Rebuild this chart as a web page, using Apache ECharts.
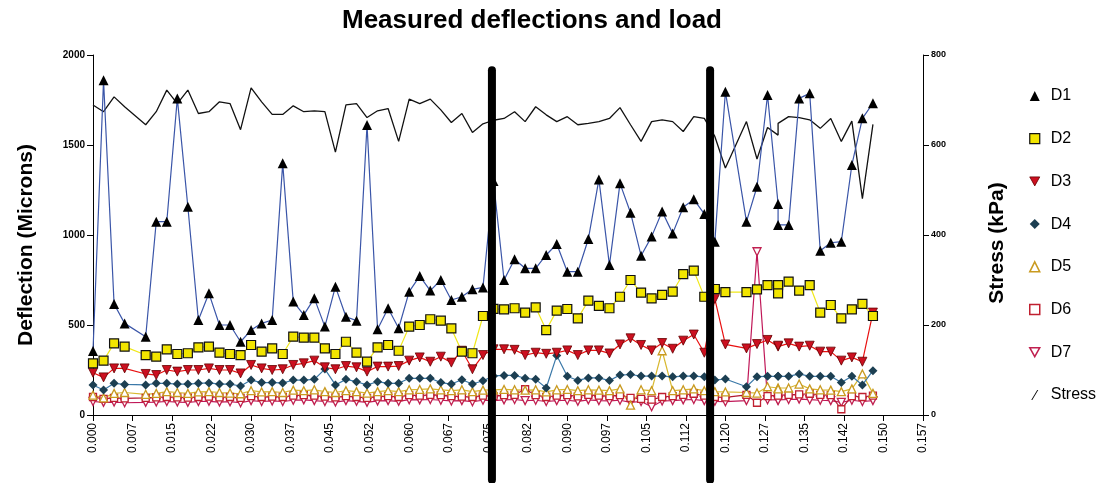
<!DOCTYPE html>
<html>
<head>
<meta charset="utf-8">
<title>Measured deflections and load</title>
<script src="https://cdn.jsdelivr.net/npm/echarts@6/dist/echarts.min.js"></script>
<style>
    html, body { margin: 0; padding: 0; background: #fff; }
    #chart { width: 1104px; height: 483px; }
</style>
</head>
<body>
<div id="chart"></div>
<script>
// x positions of the readings (0.008 and 0.122 are missing, 0.130 logged twice)
var xValues = [
    0.000, 0.002, 0.004, 0.006, 0.010, 0.012, 0.014, 0.016, 0.018, 0.020,
    0.022, 0.024, 0.026, 0.028, 0.030, 0.032, 0.034, 0.036, 0.038, 0.040,
    0.042, 0.044, 0.046, 0.048, 0.050, 0.052, 0.054, 0.056, 0.058, 0.060,
    0.062, 0.064, 0.066, 0.068, 0.070, 0.072, 0.074, 0.076, 0.078, 0.080,
    0.082, 0.084, 0.086, 0.088, 0.090, 0.092, 0.094, 0.096, 0.098, 0.100,
    0.102, 0.104, 0.106, 0.108, 0.110, 0.112, 0.114, 0.116, 0.118, 0.120,
    0.124, 0.126, 0.128, 0.130, 0.130,
    0.132, 0.134, 0.136, 0.138, 0.140, 0.142, 0.144, 0.146, 0.148
];
var d1 = [
    355, 1860, 617, 509, 435, 1074, 1074, 1759, 1157, 528,
    676, 500, 500, 407, 472, 509, 528, 1398, 630, 556,
    648, 491, 713, 546, 524, 1611, 476, 593, 482, 685,
    772, 691, 750, 639, 657, 698, 709, 1300, 750, 865,
    815, 815, 889, 950, 796, 796, 978, 1309, 833, 1287,
    1124, 885, 991, 1130, 1009, 1154, 1198, 1117, 963, 1796,
    1074, 1268, 1778, 1172, 1056,
    1056, 1759, 1787, 913, 957, 963, 1389, 1648, 1732
];
var d2 = [
    287, 302, 398, 380, 333, 324, 365, 339, 343, 376,
    380, 346, 339, 333, 389, 352, 370, 339, 435, 430,
    430, 370, 339, 407, 346, 296, 376, 389, 357, 491,
    500, 532, 524, 481, 352, 343, 550, 590, 587, 593,
    569, 598, 472, 580, 589, 537, 635, 606, 593, 657,
    750, 680, 648, 667, 685, 783, 802, 657, 700, 683,
    683, 698, 722, 722, 676,
    741, 691, 722, 569, 611, 537, 587, 617, 550
];
var d3 = [
    235, 209, 259, 259, 228, 222, 250, 241, 250, 250,
    259, 250, 250, 231, 278, 259, 250, 254, 278, 287,
    302, 265, 254, 272, 265, 241, 269, 269, 272, 302,
    320, 296, 324, 291, 357, 254, 333, 365, 365, 362,
    333, 346, 340, 346, 359, 333, 359, 359, 342, 392,
    426, 389, 359, 400, 368, 413, 447, 346, 645, 392,
    370, 394, 417, 380, 385,
    398, 380, 385, 352, 352, 302, 320, 296, 569
];
var d4 = [
    167, 139, 176, 170, 167, 176, 176, 172, 172, 176,
    178, 172, 172, 161, 194, 180, 180, 178, 194, 194,
    198, 255, 167, 198, 185, 167, 185, 176, 176, 204,
    204, 204, 180, 172, 196, 172, 190, 217, 220, 220,
    204, 198, 150, 330, 215, 192, 206, 206, 191, 222,
    225, 216, 216, 216, 212, 216, 216, 212, 194, 200,
    157, 213, 215, 215, 215,
    215, 228, 215, 215, 215, 180, 215, 167, 246
];
var d5 = [
    110, 95, 120, 125, 115, 120, 130, 125, 120, 128,
    130, 125, 122, 118, 135, 128, 130, 125, 138, 135,
    140, 130, 125, 135, 130, 122, 130, 135, 130, 140,
    142, 145, 140, 135, 140, 130, 138, 140, 142, 140,
    138, 140, 128, 140, 142, 135, 140, 138, 135, 145,
    55, 140, 135, 357, 135, 140, 145, 135, 130, 128,
    125, 122, 157, 150, 145,
    150, 172, 145, 140, 138, 130, 145, 228, 120
];
var d6 = [
    100, 90, 95, 92, 95, 98, 100, 98, 96, 100,
    102, 98, 100, 95, 105, 100, 102, 100, 108, 110,
    108, 102, 98, 105, 100, 95, 102, 105, 100, 110,
    108, 112, 110, 105, 102, 100, 108, 105, 110, 112,
    143, 110, 100, 108, 110, 104, 112, 108, 105, 110,
    95, 90, 85, 100, 105, 112, 118, 108, 100, 98,
    112, 68, 105, 110, 108,
    112, 115, 118, 112, 110, 32, 105, 100, 108
];
var d7 = [
    75, 70, 72, 68, 70, 72, 75, 72, 70, 75,
    76, 72, 74, 68, 80, 75, 78, 75, 82, 84,
    80, 75, 72, 80, 76, 70, 78, 80, 76, 85,
    84, 86, 82, 78, 80, 74, 82, 80, 84, 86,
    80, 82, 75, 80, 82, 76, 84, 80, 78, 82,
    70, 75, 46, 78, 80, 84, 86, 80, 76, 74,
    80, 907, 85, 84, 80,
    86, 88, 85, 82, 80, 70, 82, 75, 80
];
var stress = [
    689, 674, 707, 685, 645, 674, 722, 692, 722, 670,
    674, 696, 692, 634, 727, 696, 668, 668, 687, 674,
    676, 674, 584, 689, 692, 661, 676, 681, 608, 702,
    692, 702, 678, 650, 670, 628, 647, 655, 659, 674,
    652, 685, 667, 652, 663, 645, 648, 652, 659, 683,
    645, 608, 652, 656, 652, 630, 663, 659, 619, 549,
    652, 569, 639, 622, 648,
    663, 661, 656, 637, 659, 608, 653, 481, 646
];
var xTickLabels = ['0.000', '0.007', '0.015', '0.022', '0.030', '0.037', '0.045', '0.052',
    '0.060', '0.067', '0.075', '0.082', '0.090', '0.097', '0.105', '0.112', '0.120',
    '0.127', '0.135', '0.142', '0.150', '0.157'];
// the two thick vertical marker bars drawn over the plot
var dividerX = [0.0757, 0.1171];

var FONT = '"Liberation Sans", Arial, sans-serif';
var X_STEP = 0.0075;
var DOWN_TRI = 'path://M0,0L10,0L5,9Z';

function pairs(vals) {
    var out = [];
    for (var i = 0; i < xValues.length; i++) {
        out.push([xValues[i], vals[i]]);
    }
    return out;
}

// one deflection series: line colour plus marker look
function deflSeries(name, vals, symbol, size, fill, border, borderWidth, lineColor) {
    return {
        name: name,
        type: 'line',
        yAxisIndex: 0,
        data: pairs(vals),
        symbol: symbol,
        symbolSize: size,
        showAllSymbol: true,
        animation: false,
        lineStyle: { color: lineColor, width: 1.2 },
        itemStyle: { color: fill, borderColor: border, borderWidth: borderWidth },
        emphasis: { disabled: true }
    };
}

function plainNumber(v) {
    return String(v);
}

var chart = echarts.init(document.getElementById('chart'));

var option = {
    backgroundColor: '#fff',
    animation: false,
    title: {
        text: 'Measured deflections and load',
        left: 337,
        top: 3,
        textStyle: { fontFamily: FONT, fontSize: 26, fontWeight: 'bold', color: '#000' }
    },
    grid: { left: 93, right: 181, top: 55, bottom: 68 },
    legend: {
        orient: 'vertical',
        left: 1024,
        top: 83,
        itemWidth: 10,
        itemHeight: 10,
        itemGap: 26.7,
        textStyle: { fontFamily: FONT, fontSize: 16, color: '#000', lineHeight: 16, padding: [0, 0, 0, 6] },
        data: [
            { name: 'D1', icon: 'triangle', itemStyle: { color: '#000', borderWidth: 0 } },
            { name: 'D2', icon: 'rect', itemStyle: { color: '#f2e500', borderColor: '#111', borderWidth: 1.2 } },
            { name: 'D3', icon: DOWN_TRI, itemStyle: { color: '#cc1020', borderColor: '#600', borderWidth: 0.8 } },
            { name: 'D4', icon: 'diamond', itemStyle: { color: '#1c3f52', borderWidth: 0 } },
            { name: 'D5', icon: 'triangle', itemStyle: { color: '#fff', borderColor: '#c99a20', borderWidth: 1.5 } },
            { name: 'D6', icon: 'rect', itemStyle: { color: '#fff', borderColor: '#c02030', borderWidth: 1.5 } },
            { name: 'D7', icon: DOWN_TRI, itemStyle: { color: '#fff', borderColor: '#c02050', borderWidth: 1.5 } },
            { name: 'Stress', icon: 'path://M0,10L6,0L7,0L1,10Z', itemStyle: { color: '#000', borderWidth: 0 } }
        ]
    },
    xAxis: {
        type: 'value',
        min: 0,
        max: 0.1575,
        interval: X_STEP,
        axisLine: { lineStyle: { color: '#000', width: 1 } },
        axisTick: { length: 6, lineStyle: { color: '#000' } },
        splitLine: { show: false },
        axisLabel: {
            rotate: 90,
            margin: 8,
            fontFamily: FONT,
            fontSize: 12,
            color: '#000',
            formatter: function (v) {
                return xTickLabels[Math.round(v / X_STEP)];
            }
        }
    },
    yAxis: [{
        type: 'value',
        min: 0,
        max: 2000,
        interval: 500,
        name: 'Deflection (Microns)',
        nameLocation: 'middle',
        nameGap: 56,
        nameTextStyle: {
            fontFamily: FONT, fontSize: 21, fontWeight: 'bold', color: '#000',
            padding: [0, 20, 0, 0]
        },
        axisLine: { show: true, lineStyle: { color: '#000', width: 1 } },
        axisTick: { show: true, length: 6, lineStyle: { color: '#000' } },
        splitLine: { show: false },
        axisLabel: { margin: 8, fontFamily: FONT, fontSize: 10, fontWeight: 'bold', color: '#000', formatter: plainNumber }
    }, {
        type: 'value',
        min: 0,
        max: 800,
        interval: 200,
        position: 'right',
        name: 'Stress (kPa)',
        nameLocation: 'middle',
        nameGap: 64,
        nameTextStyle: {
            fontFamily: FONT, fontSize: 21, fontWeight: 'bold', color: '#000',
            padding: [0, 16, 0, 0]
        },
        axisLine: { show: true, lineStyle: { color: '#000', width: 1 } },
        axisTick: { show: true, length: 6, lineStyle: { color: '#000' } },
        splitLine: { show: false },
        axisLabel: { margin: 8, fontFamily: FONT, fontSize: 9, fontWeight: 'bold', color: '#000', formatter: plainNumber }
    }],
    series: [
        {
            name: 'Stress',
            type: 'line',
            yAxisIndex: 1,
            data: pairs(stress),
            symbol: 'none',
            lineStyle: { color: '#111', width: 1.3 },
            itemStyle: { color: '#000' },
            emphasis: { disabled: true }
        },
        deflSeries('D7', d7, 'triangle', 8, '#fff', '#c02050', 1.3, '#c01858'),
        deflSeries('D6', d6, 'rect', 7, '#fff', '#c02030', 1.3, '#b01830'),
        deflSeries('D5', d5, 'triangle', 8, '#fff', '#c99a20', 1.3, '#d8b830'),
        deflSeries('D4', d4, 'diamond', 9, '#1c3f52', '#1c3f52', 0, '#3a78a8'),
        deflSeries('D3', d3, 'triangle', 9, '#cc1020', '#600', 0.8, '#e81010'),
        deflSeries('D2', d2, 'rect', 9, '#f2e500', '#111', 1.2, '#f0e81a'),
        deflSeries('D1', d1, 'triangle', 10, '#000', '#000', 0, '#3a55a8')
    ]
};
// D3 and D7 use downward triangles
option.series[1].symbolRotate = 180;
option.series[5].symbolRotate = 180;

chart.setOption(option);

// thick vertical bars placed through the axis scales
var bars = dividerX.map(function (x) {
    var top = chart.convertToPixel({ gridIndex: 0 }, [x, 1915]);
    var bottom = chart.convertToPixel({ gridIndex: 0 }, [x, -360]);
    return {
        type: 'line',
        z: 100,
        shape: { x1: top[0], y1: top[1], x2: bottom[0], y2: bottom[1] },
        style: { stroke: '#000', lineWidth: 8, lineCap: 'round' }
    };
});
chart.setOption({ graphic: bars });
</script>
</body>
</html>
